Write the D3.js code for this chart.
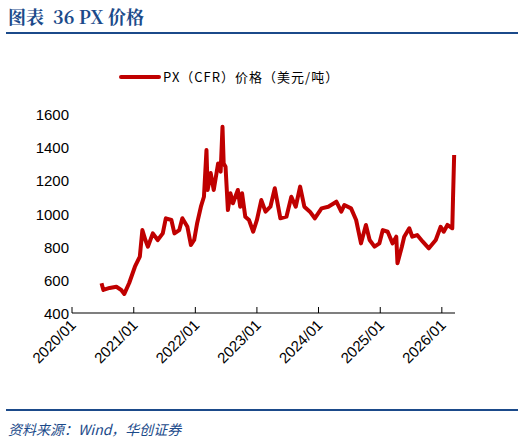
<!DOCTYPE html>
<html><head><meta charset="utf-8">
<script src="https://cdn.jsdelivr.net/npm/d3@7"></script>
<style>body{margin:0;background:#fff}svg{display:block}</style>
</head><body>
<script>
const dates=[2020.48,2020.51,2020.61,2020.72,2020.80,2020.85,2020.93,2021.02,2021.10,2021.14,2021.19,2021.23,2021.31,2021.39,2021.47,2021.52,2021.61,2021.66,2021.74,2021.79,2021.87,2021.93,2021.98,2022.03,2022.09,2022.14,2022.18,2022.20,2022.25,2022.30,2022.37,2022.41,2022.44,2022.46,2022.49,2022.53,2022.57,2022.61,2022.65,2022.69,2022.73,2022.76,2022.81,2022.87,2022.94,2023.00,2023.07,2023.14,2023.22,2023.29,2023.38,2023.48,2023.56,2023.63,2023.70,2023.77,2023.86,2023.94,2024.05,2024.16,2024.29,2024.37,2024.42,2024.53,2024.61,2024.69,2024.77,2024.83,2024.91,2024.99,2025.04,2025.12,2025.20,2025.26,2025.28,2025.35,2025.39,2025.47,2025.52,2025.60,2025.69,2025.79,2025.90,2025.98,2026.03,2026.09,2026.17,2026.18,2026.20];
const prices=[579,539,551,558,539,515,581,679,740,900,840,800,880,840,880,971,961,880,900,971,920,810,840,943,1041,1101,1383,1142,1244,1142,1302,1252,1523,1302,1282,1021,1122,1062,1101,1142,1041,1122,981,961,890,961,1081,1011,1041,1152,971,981,1101,1041,1162,1041,1011,971,1031,1041,1071,1011,1051,1031,961,820,931,840,800,820,900,890,820,860,700,800,860,911,860,870,830,790,840,920,890,931,911,1081,1353];
const yTicks=[400,600,800,1000,1200,1400,1600];
const xTickLabels=["2020/01","2021/01","2022/01","2023/01","2024/01","2025/01","2026/01"];
const seriesName="PX（CFR）价格（美元/吨）";
const toDate=d=>{const y=Math.floor(d);return new Date(y,0,1+Math.round((d-y)*365));};
const W=524,H=445;
const svg=d3.select("body").append("svg").attr("width",W).attr("height",H);
const blue="#1b4a8a";
svg.append("text").attr("x",8).attr("y",24).attr("fill",blue).attr("font-family","'Noto Serif CJK SC','Noto Sans CJK SC',serif").attr("font-weight","bold").attr("font-size",18).attr("xml:space","preserve").text("图表  36 PX 价格");
svg.append("line").attr("x1",6).attr("x2",518).attr("y1",33).attr("y2",33).attr("stroke",blue).attr("stroke-width",2);
svg.append("line").attr("x1",6).attr("x2",518).attr("y1",410).attr("y2",410).attr("stroke",blue).attr("stroke-width",2);
svg.append("text").attr("x",8).attr("y",435).attr("fill",blue).attr("font-family","'Noto Sans CJK SC',serif").attr("font-style","italic").attr("font-size",14).text("资料来源：Wind，华创证券");
const x=d3.scaleTime().domain([new Date(2020,0,1),new Date(2026,2,20)]).range([72,455]);
const y=d3.scaleLinear().domain([400,1600]).range([313,114]);
const font="Arial,'Liberation Sans',sans-serif";
svg.append("line").attr("x1",121).attr("x2",159).attr("y1",77).attr("y2",77).attr("stroke","#c00000").attr("stroke-width",4).attr("stroke-linecap","round");
svg.append("text").attr("x",163).attr("y",82).attr("font-family","'Noto Sans CJK SC',sans-serif").attr("font-size",13).attr("letter-spacing",1).attr("fill","#000").text(seriesName);
svg.selectAll(".yl").data(yTicks).enter().append("text").attr("x",69).attr("y",d=>y(d)+6).attr("text-anchor","end").attr("font-family",font).attr("font-size",15).text(d=>d);
const xt=xTickLabels.map(s=>new Date(+s.slice(0,4),0,1));
svg.append("line").attr("x1",72).attr("x2",455).attr("y1",313).attr("y2",313).attr("stroke","#000").attr("stroke-width",1.2);
svg.selectAll(".xt").data(xt).enter().append("line").attr("x1",d=>x(d)).attr("x2",d=>x(d)).attr("y1",313).attr("y2",307).attr("stroke","#000");
svg.selectAll(".xl").data(xt).enter().append("text").attr("transform",d=>`translate(${x(d)+5},${326}) rotate(-45)`).attr("text-anchor","end").attr("font-family",font).attr("font-size",15).text((d,i)=>xTickLabels[i]);
const data=dates.map((d,i)=>[toDate(d),prices[i]]);
svg.append("path").datum(data).attr("fill","none").attr("stroke","#c00000").attr("stroke-width",4).attr("stroke-linejoin","round")
 .attr("d",d3.line().x(d=>x(d[0])).y(d=>y(d[1])));
</script>
</body></html>
